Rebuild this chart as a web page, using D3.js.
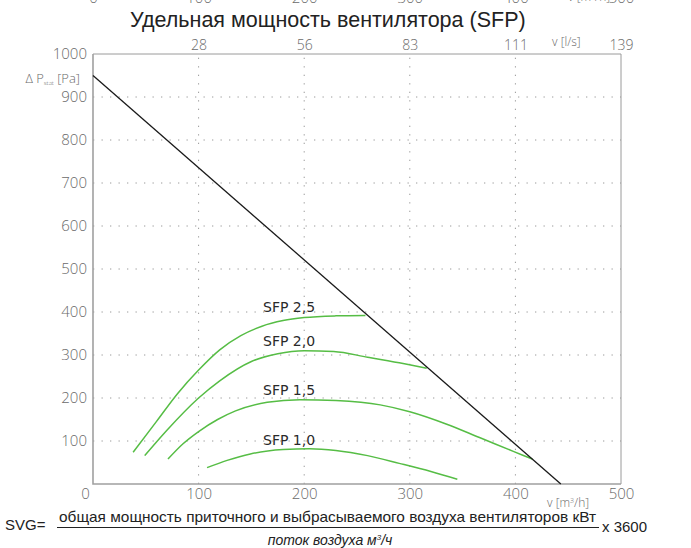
<!DOCTYPE html>
<html>
<head>
<meta charset="utf-8">
<script src="https://cdn.jsdelivr.net/npm/d3@7/dist/d3.min.js"></script>
<style>
  body { margin: 0; background: #fff; }
</style>
</head>
<body>
<svg id="chart" width="691" height="548" font-family="'Open Sans', sans-serif"></svg>
<script>
// values
const flowTicks = [0, 100, 200, 300, 400, 500]
const litreTicks = [28, 56, 83, 111, 139]
const pressureTicks = [100, 200, 300, 400, 500, 600, 700, 800, 900, 1000]
const systemLine = [[0, 950], [443, 0]]

const sfp25 = [[38, 74], [60, 145], [80, 210], [100, 265], [120, 312], [140, 345], [160, 367], [180, 380], [200, 387], [230, 391], [258, 392]]
const sfp20 = [[49, 66], [70, 125], [100, 200], [120, 240], [150, 285], [175, 303], [200, 310], [228, 308], [260, 295], [290, 282], [316, 269]]
const sfp15 = [[71, 58], [85, 93], [100, 122], [118, 150], [135, 170], [165, 190], [196, 196], [230, 194], [272, 184], [300, 168], [335, 139], [366, 108], [398, 76], [416, 58]]
const sfp10 = [[108, 38], [127, 55], [149, 70], [180, 80], [205, 82], [230, 78], [260, 66], [290, 48], [320, 29], [345, 11]]

const curves = [sfp25, sfp20, sfp15, sfp10]
const curveLabels = ['SFP 2,5', 'SFP 2,0', 'SFP 1,5', 'SFP 1,0']
const labelAt = [[161, 400], [161, 320], [161, 207], [161, 90]]

const width = 691, height = 548
const margin = { top: 54, right: 70, bottom: 64, left: 93 }
const grey = '#6a6a6a'

const svg = d3.select('#chart')
const x = d3.scaleLinear().domain([0, 500]).range([margin.left, width - margin.right])
const y = d3.scaleLinear().domain([0, 1000]).range([height - margin.bottom, margin.top])

// dotted grid
svg.append('g')
  .selectAll('line')
  .data(pressureTicks.filter(d => d < 1000))
  .join('line')
  .attr('x1', x(0)).attr('x2', x(500))
  .attr('y1', d => y(d)).attr('y2', d => y(d))
  .attr('stroke', '#9a9a9a')
  .attr('stroke-dasharray', '1.3,7.2')

svg.append('g')
  .selectAll('line')
  .data(flowTicks.filter(d => d > 0 && d < 500))
  .join('line')
  .attr('x1', d => x(d)).attr('x2', d => x(d))
  .attr('y1', y(0)).attr('y2', y(1000))
  .attr('stroke', '#9a9a9a')
  .attr('stroke-dasharray', '1.3,7.2')

// frame
svg.append('path')
  .attr('d', `M${x(0)},${y(1000)}H${x(500)}V${y(0)}`)
  .attr('fill', 'none')
  .attr('stroke', '#9a9a9a')
  .attr('stroke-width', 1)
svg.append('path')
  .attr('d', `M${x(0)},${y(1000)}V${y(0)}H${x(500)}`)
  .attr('fill', 'none')
  .attr('stroke', '#a0a0a0')
  .attr('stroke-width', 1.6)

const styleTicks = (g, size) => {
  g.select('.domain').remove()
  g.selectAll('text')
    .attr('font-size', size).attr('fill', grey)
    .attr('font-family', "'Open Sans', sans-serif").attr('font-weight', 300)
}

// bottom axis
const xAxis = svg.append('g')
  .attr('transform', `translate(0,${y(0)})`)
  .call(d3.axisBottom(x).tickValues(flowTicks).tickSize(0).tickPadding(4))
  .call(styleTicks, 15)
xAxis.selectAll('text').attr('dx', d => d === 0 ? -8 : 0)

// left axis
svg.append('g')
  .attr('transform', `translate(${x(0)},0)`)
  .call(d3.axisLeft(y).tickValues(pressureTicks).tickFormat(d3.format('d')).tickSize(0).tickPadding(6))
  .call(styleTicks, 15)

// top axis (l/s)
svg.append('g')
  .attr('transform', `translate(0,${y(1000)})`)
  .call(d3.axisTop(x).tickValues(flowTicks.slice(1)).tickFormat((d, i) => litreTicks[i]).tickSize(0).tickPadding(4))
  .call(styleTicks, 14)

// clipped axis at the very top of the picture (m3/h)
svg.append('g')
  .attr('transform', 'translate(0,3)')
  .call(d3.axisTop(x).tickValues(flowTicks).tickSize(0).tickPadding(0))
  .call(styleTicks, 15)
svg.append('text')
  .attr('x', 568).attr('y', 1)
  .attr('font-size', 12).attr('fill', grey).attr('font-weight', 300)
  .html('v [m<tspan dy="-4" font-size="7">3</tspan><tspan dy="4">/h]</tspan>')

// axis captions
svg.append('text')
  .attr('x', 547).attr('y', 507)
  .attr('font-size', 12).attr('fill', grey).attr('font-weight', 300)
  .html('v [m<tspan dy="-4" font-size="7">3</tspan><tspan dy="4">/h]</tspan>')
svg.append('text')
  .attr('x', 552).attr('y', 46)
  .attr('font-size', 12).attr('fill', grey).attr('font-weight', 300)
  .text('v [l/s]')
svg.append('text')
  .attr('x', 80).attr('y', 83)
  .attr('text-anchor', 'end')
  .attr('font-size', 13).attr('fill', grey).attr('font-weight', 300)
  .html('Δ P<tspan font-size="6" dy="2">stat</tspan><tspan dy="-2"> [Pa]</tspan>')

// title
svg.append('text')
  .attr('x', 130).attr('y', 27)
  .attr('font-family', "'Liberation Sans', Arial, sans-serif")
  .attr('font-size', 21.5).attr('fill', '#222')
  .text('Удельная мощность вентилятора (SFP)')

// curves
const line = d3.line().x(d => x(d[0])).y(d => y(d[1])).curve(d3.curveMonotoneX)

svg.append('g')
  .selectAll('path')
  .data(curves)
  .join('path')
  .attr('d', line)
  .attr('fill', 'none')
  .attr('stroke', '#56bd45')
  .attr('stroke-width', 1.5)

svg.append('path')
  .attr('d', d3.line().x(d => x(d[0])).y(d => y(d[1]))(systemLine))
  .attr('fill', 'none')
  .attr('stroke', '#1a1a1a')
  .attr('stroke-width', 1.3)

svg.append('g')
  .selectAll('text')
  .data(curveLabels)
  .join('text')
  .attr('x', (d, i) => x(labelAt[i][0]))
  .attr('y', (d, i) => y(labelAt[i][1]))
  .attr('font-family', "'DejaVu Sans', sans-serif")
  .attr('font-size', 14).attr('fill', '#2a2a2a')
  .text(d => d)

// formula
const f = svg.append('g').attr('font-family', "'Liberation Sans', Arial, sans-serif").attr('fill', '#222')
f.append('text').attr('x', 5).attr('y', 530).attr('font-size', 15).text('SVG=')
f.append('text').attr('x', 59).attr('y', 522).attr('font-size', 15)
  .attr('textLength', 537).attr('lengthAdjust', 'spacingAndGlyphs')
  .text('общая мощность приточного и выбрасываемого воздуха вентиляторов кВт')
f.append('line').attr('x1', 57).attr('x2', 599).attr('y1', 527.5).attr('y2', 527.5)
  .attr('stroke', '#222').attr('stroke-width', 1)
f.append('text').attr('x', 602).attr('y', 532).attr('font-size', 15).text('x 3600')
f.append('text').attr('x', 330).attr('y', 545).attr('font-size', 14).attr('font-style', 'italic')
  .attr('text-anchor', 'middle')
  .html('поток воздуха м<tspan dy="-5" font-size="8">3</tspan><tspan dy="5">/ч</tspan>')
</script>
</body>
</html>
